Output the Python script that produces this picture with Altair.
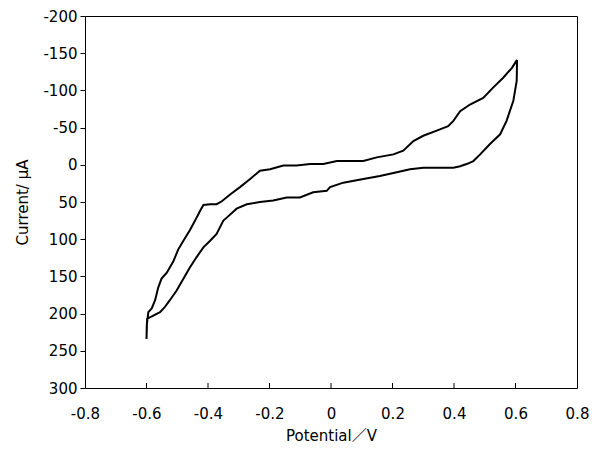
import altair as alt
import pandas as pd

# Cyclic voltammogram path (potential in V, current in µA)
potential = [
    0.605, 0.604, 0.593, 0.571, 0.550, 0.517, 0.485, 0.463, 0.441, 0.420, 0.398,
    0.381, 0.344, 0.300, 0.257, 0.214, 0.159, 0.105, 0.040, -0.003, -0.014,
    -0.058, -0.101, -0.144, -0.188, -0.231, -0.274, -0.307, -0.339, -0.350,
    -0.372, -0.393, -0.415, -0.437, -0.459, -0.480, -0.502, -0.524, -0.540,
    -0.556, -0.589, -0.598, -0.600,
    -0.599, -0.594, -0.583, -0.572, -0.562, -0.551, -0.534, -0.513, -0.497,
    -0.480, -0.459, -0.442, -0.426, -0.415, -0.393, -0.372, -0.355, -0.328,
    -0.296, -0.263, -0.231, -0.198, -0.155, -0.112, -0.068, -0.025, 0.019,
    0.062, 0.105, 0.149, 0.203, 0.235, 0.268, 0.300, 0.344, 0.381, 0.398,
    0.420, 0.452, 0.495, 0.528, 0.560, 0.588, 0.605,
]
current = [
    -141, -113, -86, -59, -41, -28, -14, -5, -1, 2, 4,
    4, 4, 4, 6, 10, 15, 19, 24, 30, 35,
    37, 44, 44, 48, 50, 53, 59, 71, 75,
    93, 102, 111, 124, 138, 153, 169, 182, 191,
    198, 205, 207, 234,
    215, 198, 193, 182, 165, 153, 145, 130, 114,
    102, 88, 75, 62, 54, 53, 53, 49, 40,
    30, 19, 8, 6, 1, 1, -1, -1, -5,
    -5, -5, -10, -14, -19, -32, -39, -46, -52, -59,
    -72, -81, -90, -104, -117, -130, -141,
]

x_ticks = [-0.8, -0.6, -0.4, -0.2, 0, 0.2, 0.4, 0.6, 0.8]
y_ticks = [-200, -150, -100, -50, 0, 50, 100, 150, 200, 250, 300]

df = pd.DataFrame({"potential": potential, "current": current,
                   "step": list(range(len(potential)))})
ticks_df = pd.DataFrame({"tick": x_ticks[1:-1]})

W, H = 492, 372
FONT = "DejaVu Sans, Noto Sans CJK JP"

xscale = alt.Scale(domain=[-0.8, 0.8], nice=False, zero=False)
yscale = alt.Scale(domain=[-200, 300], nice=False, zero=False, reverse=True)

line = alt.Chart(df).mark_line(color="black", strokeWidth=2).encode(
    x=alt.X("potential:Q", scale=xscale,
            axis=alt.Axis(values=x_ticks, title="Potential／V", ticks=False,
                          domain=False, grid=False, labelPadding=18,
                          labelExpr="toString(datum.value)", titlePadding=7)),
    y=alt.Y("current:Q", scale=yscale,
            axis=alt.Axis(values=y_ticks, title="Current/ μA", tickSize=5,
                          domain=False, grid=False, labelPadding=3,
                          labelExpr="toString(datum.value)", titlePadding=12)),
    order="step:Q",
)

inner_ticks = alt.Chart(ticks_df).mark_rule(color="black", strokeWidth=1).encode(
    x=alt.X("tick:Q", scale=xscale),
    y=alt.value(H - 5),
    y2=alt.value(H),
)

chart = alt.layer(line, inner_ticks).properties(
    width=W, height=H,
    background="white",
    autosize=alt.AutoSizeParams(type="none"),
    padding={"left": 77, "top": 8, "right": 21, "bottom": 56},
).configure_view(
    stroke="black", strokeWidth=1
).configure_axis(
    labelFont=FONT, titleFont=FONT, labelFontSize=15, titleFontSize=15,
    labelColor="black", titleColor="black", tickColor="black",
    titleFontWeight="normal", labelFlush=False, labelOverlap=False,
)

chart.save("out.html", embed_options={"renderer": "svg", "actions": False})
